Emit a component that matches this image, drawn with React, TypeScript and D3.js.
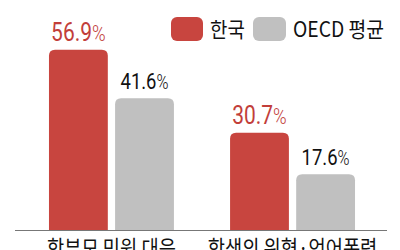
import React from "react";
import * as d3 from "d3";

const categories = ["학부모 민원 대응", "학생의 위협·언어폭력"];
const seriesNames = ["한국", "OECD 평균"];
const koreaValues = [56.9, 30.7];
const oecdValues = [41.6, 17.6];
const seriesColors = ["#c8453f", "#c0c0c0"];
const labelColors = ["#c23e3a", "#111111"];

const W = 400;
const H = 250;
const baseY = 230;

function roundedTop(x: number, y: number, w: number, h: number, r: number) {
  const rr = Math.min(r, h, w / 2);
  return `M${x},${y + h}V${y + rr}Q${x},${y} ${x + rr},${y}H${x + w - rr}Q${x + w},${y} ${x + w},${y + rr}V${y + h}Z`;
}

export default function App() {
  const x0 = d3.scaleBand<string>().domain(categories).range([20, 384]).paddingInner(0.31).paddingOuter(0.16);
  const x1 = d3.scaleBand<string>().domain(seriesNames).range([0, x0.bandwidth()]).paddingInner(0.11).paddingOuter(0);
  const y = d3.scaleLinear().domain([0, 60]).range([baseY, baseY - 60 * 3.17]);
  const series = [koreaValues, oecdValues];
  const num = "Roboto, 'Liberation Sans', sans-serif";
  const kr = "'Noto Sans CJK KR', 'Noto Sans', sans-serif";

  return (
    <svg width={W} height={H} style={{ position: "absolute", left: 0, top: 0, background: "#fff" }}>
      {categories.map((c, ci) => (
        <g key={c} transform={`translate(${x0(c)},0)`}>
          {seriesNames.map((s, si) => {
            const v = series[si][ci];
            const bx = x1(s)!;
            const bw = x1.bandwidth();
            const top = y(v);
            const fs = si === 0 ? 25 : 22;
            return (
              <g key={s}>
                <path d={roundedTop(bx, top, bw, baseY - top, 6)} fill={seriesColors[si]} />
                <text
                  transform={`translate(${bx + bw / 2},${top - 9}) scale(0.84,1)`}
                  textAnchor="middle"
                  fontFamily={num}
                  fontSize={fs}
                  fill={labelColors[si]}
                >
                  {v.toFixed(1)}
                  <tspan fontSize={fs * 0.88} fontWeight={300}>%</tspan>
                </text>
              </g>
            );
          })}
          <text
            transform={`translate(${x0.bandwidth() / 2},256) scale(0.85,1)`}
            textAnchor="middle"
            fontFamily={kr}
            fontSize={22}
            fill="#111"
          >
            {c}
          </text>
        </g>
      ))}
      <line x1={15} x2={387} y1={baseY + 0.5} y2={baseY + 0.5} stroke="#777" strokeWidth={1} />
      <g>
        <rect x={171} y={17} width={32} height={24} rx={6} fill={seriesColors[0]} />
        <text transform="translate(210,37) scale(0.9,1)" fontFamily={kr} fontSize={21} fill="#111">
          {seriesNames[0]}
        </text>
        <rect x={253} y={17} width={33} height={24} rx={6} fill={seriesColors[1]} />
        <text transform="translate(293,37) scale(0.92,1)" fontFamily={kr} fontSize={21} fill="#111">
          {seriesNames[1]}
        </text>
      </g>
    </svg>
  );
}
